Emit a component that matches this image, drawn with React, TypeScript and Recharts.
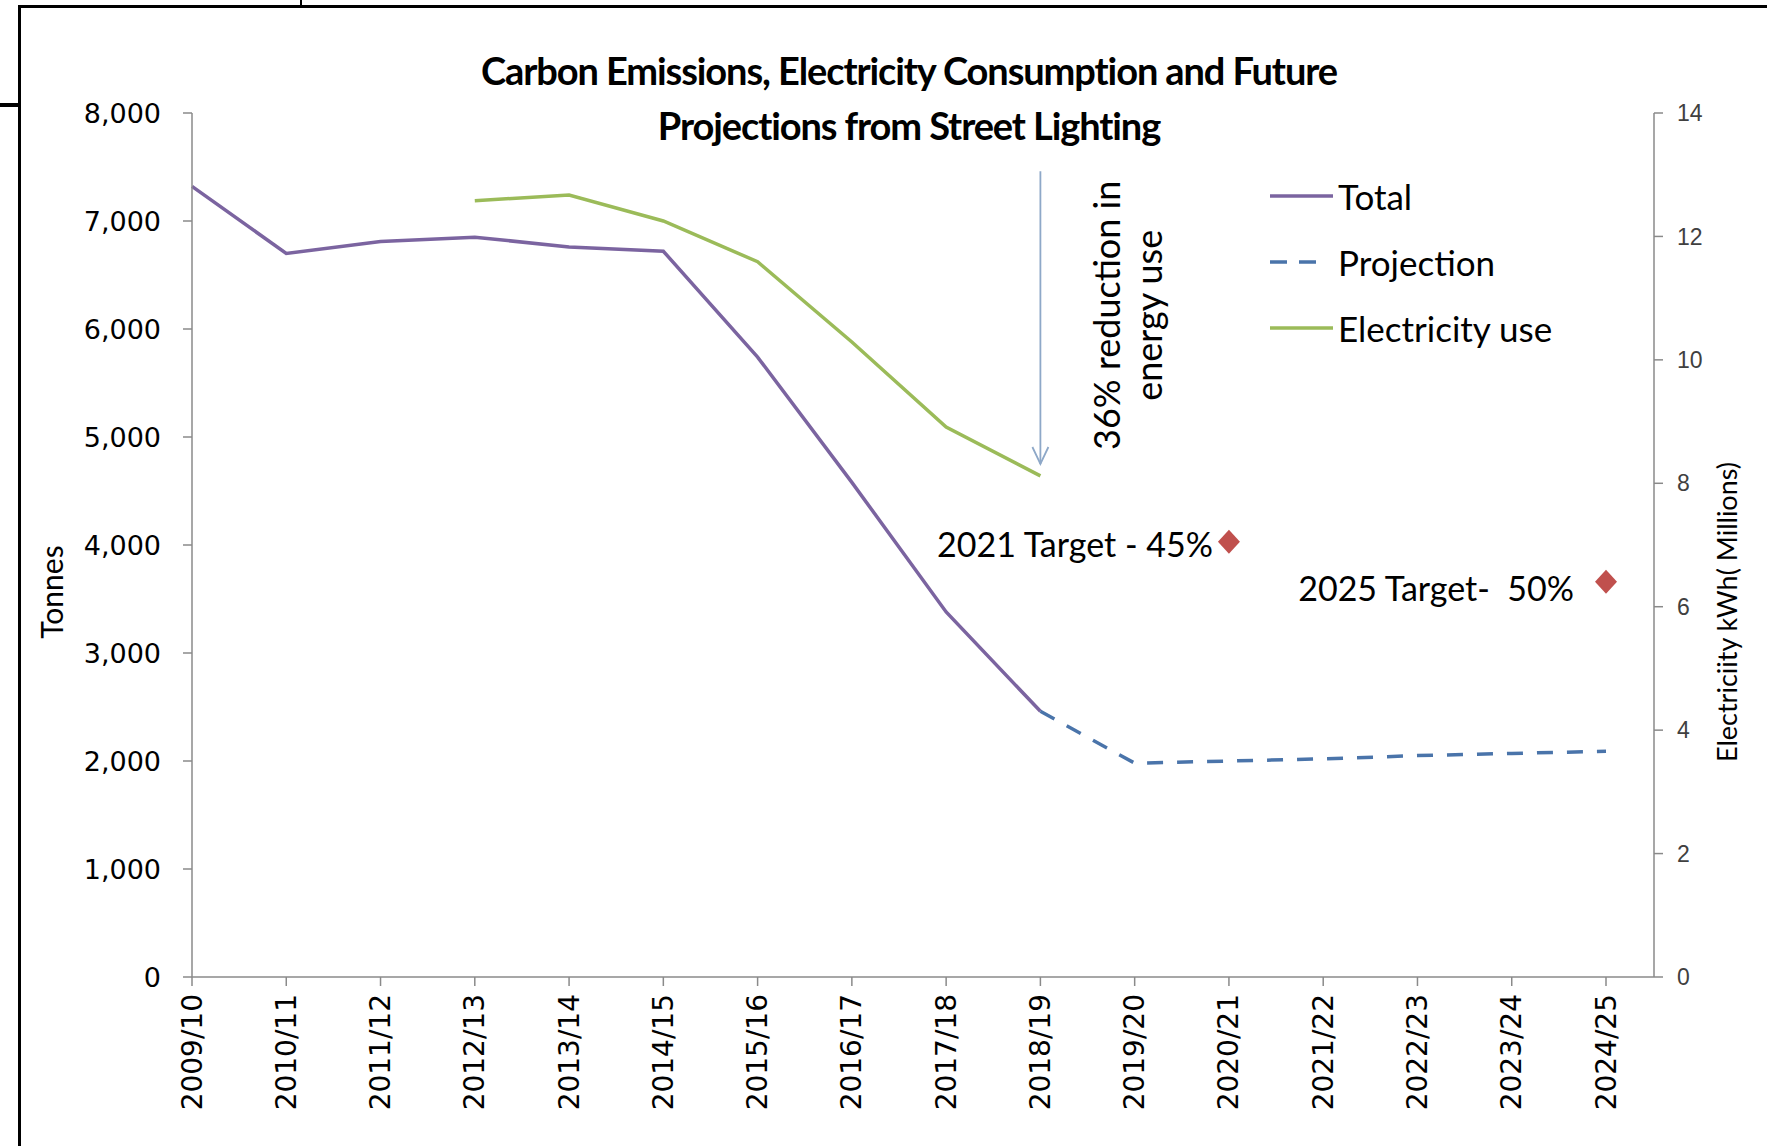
import React from "react";
import {
  ComposedChart,
  Line,
  Scatter,
  XAxis,
  YAxis,
  ReferenceLine,
  Legend,
  Label,
} from "recharts";

// categories
const years = [
  "2009/10", "2010/11", "2011/12", "2012/13", "2013/14", "2014/15", "2015/16", "2016/17",
  "2017/18", "2018/19", "2019/20", "2020/21", "2021/22", "2022/23", "2023/24", "2024/25",
];

// tonnes of CO2
const totalTonnes = [7320, 6700, 6810, 6850, 6760, 6720, 5740, 4580, 3380, 2460, null, null, null, null, null, null];
const projectionTonnes = [null, null, null, null, null, null, null, null, null, 2460, 1980, 2000, 2020, 2050, 2070, 2090];

// electricity kWh (millions)
const electricityMkWh = [null, null, null, 12.58, 12.67, 12.25, 11.59, 10.29, 8.91, 8.12, null, null, null, null, null, null];

// targets
const targetYears = ["2020/21", "2024/25"];
const targetTonnes = [4030, 3660];
const targetLabels = ["2021 Target - 45%", "2025 Target-  50%"];

const leftTicks = [0, 1000, 2000, 3000, 4000, 5000, 6000, 7000, 8000];
const rightTicks = [0, 2, 4, 6, 8, 10, 12, 14];

const seriesOrder = ["Total", "Projection", "Electricity use"];

// arrow annotation
const arrowYear = "2018/19";
const arrowFrom = 7460;
const arrowTo = 4750;
const arrowText = ["36% reduction in", "energy use"];

const data = years.map((year, i) => {
  const t = targetYears.indexOf(year);
  return {
    year,
    total: totalTonnes[i],
    projection: projectionTonnes[i],
    electricity: electricityMkWh[i],
    target: t >= 0 ? targetTonnes[t] : null,
  };
});

const TEXT_FONT = "Lato, 'Noto Sans', sans-serif";
const TICK_FONT = "'DejaVu Sans', Verdana, sans-serif";
const AXIS_GREY = "#8a8a8a";

// label offsets from the diamond, in px
const targetLabelOffset = [
  { dx: -16, dy: 2 },
  { dx: -32, dy: 6 },
];

const XTick = (props: any) => {
  const { x, y, payload } = props;
  return (
    <text
      x={x}
      y={y}
      transform={`rotate(-90 ${x} ${y})`}
      textAnchor="end"
      dominantBaseline="central"
      fontFamily={TICK_FONT}
      fontSize={28}
      fill="#000"
    >
      {payload.value}
    </text>
  );
};

const TargetShape = (props: any) => {
  const { cx, cy, payload } = props;
  if (cx == null || cy == null || payload?.target == null) return <g />;
  const idx = targetYears.indexOf(payload.year);
  const off = targetLabelOffset[idx] || { dx: -16, dy: 0 };
  return (
    <g>
      <path
        d={`M${cx},${cy - 12} L${cx + 11},${cy} L${cx},${cy + 12} L${cx - 11},${cy} Z`}
        fill="#c0504d"
      />
      <text
        x={cx + off.dx}
        y={cy + off.dy}
        textAnchor="end"
        dominantBaseline="central"
        fontFamily={TEXT_FONT}
        fontSize={34}
        fill="#000"
        style={{ whiteSpace: "pre" }}
      >
        {targetLabels[idx]}
      </text>
    </g>
  );
};

const ArrowShape = (props: any) => {
  const { x1, y1, x2, y2 } = props;
  if (x1 == null) return <g />;
  const cy = y1 + 144;
  return (
    <g>
      <line x1={x1} y1={y1} x2={x2} y2={y2} stroke="#8ea8c8" strokeWidth={1.8} />
      <path
        d={`M${x2 - 8},${y2 - 17} L${x2},${y2} L${x2 + 8},${y2 - 17}`}
        fill="none"
        stroke="#8ea8c8"
        strokeWidth={1.8}
      />
      {arrowText.map((t, i) => {
        const tx = x1 + 66 + i * 42;
        return (
          <text
            key={t}
            x={tx}
            y={cy}
            transform={`rotate(-90 ${tx} ${cy})`}
            textAnchor="middle"
            dominantBaseline="central"
            fontFamily={TEXT_FONT}
            fontSize={36}
            fill="#000"
          >
            {t}
          </text>
        );
      })}
    </g>
  );
};

const LegendContent = (props: any) => {
  const items = (props.payload || [])
    .filter((p: any) => p.type !== "none")
    .slice()
    .sort((a: any, b: any) => seriesOrder.indexOf(a.value) - seriesOrder.indexOf(b.value));
  return (
    <div>
      {items.map((entry: any) => {
        const dashed = !!entry.payload?.strokeDasharray;
        return (
          <div key={entry.value} style={{ display: "flex", alignItems: "center", height: 66 }}>
            <svg width={68} height={10}>
              <line
                x1={0}
                y1={5}
                x2={dashed ? 46 : 63}
                y2={5}
                stroke={entry.color}
                strokeWidth={3.5}
                strokeDasharray={dashed ? "17 12" : undefined}
              />
            </svg>
            <span style={{ fontFamily: TEXT_FONT, fontSize: 35, color: "#000", lineHeight: 1 }}>
              {entry.value}
            </span>
          </div>
        );
      })}
    </div>
  );
};

const LeftTitle = (props: any) => {
  const { viewBox } = props;
  const x = viewBox.x + 51;
  const y = viewBox.y + viewBox.height / 2 + 47;
  return (
    <text x={x} y={y} transform={`rotate(-90 ${x} ${y})`} textAnchor="middle" dominantBaseline="central"
      fontFamily={TEXT_FONT} fontSize={30} fill="#000">
      Tonnes
    </text>
  );
};

const RightTitle = (props: any) => {
  const { viewBox } = props;
  const x = viewBox.x + 72;
  const y = viewBox.y + viewBox.height / 2 + 67;
  return (
    <text x={x} y={y} transform={`rotate(-90 ${x} ${y})`} textAnchor="middle" dominantBaseline="central"
      fontFamily={TEXT_FONT} fontSize={27} fill="#000">
      Electriciity kWh( Millions)
    </text>
  );
};

export default function App() {
  return (
    <div style={{ position: "absolute", left: 0, top: 0, width: 1767, height: 1146, background: "#fff", overflow: "hidden" }}>
      {/* page frame fragments */}
      <div style={{ position: "absolute", left: 18, top: 5, width: 1749, height: 3, background: "#000" }} />
      <div style={{ position: "absolute", left: 18, top: 5, width: 3, height: 1141, background: "#000" }} />
      <div style={{ position: "absolute", left: 0, top: 103, width: 19, height: 4, background: "#000" }} />
      <div style={{ position: "absolute", left: 300, top: 0, width: 2, height: 6, background: "#000" }} />

      <div
        style={{
          position: "absolute",
          left: 0,
          top: 43,
          width: 1818,
          textAlign: "center",
          fontFamily: TEXT_FONT,
          fontWeight: 700,
          fontSize: 38,
          letterSpacing: -1.1,
          lineHeight: "55px",
          color: "#000",
          zIndex: 2,
        }}
      >
        <div>Carbon Emissions, Electricity Consumption and Future</div>
        <div>Projections from Street Lighting</div>
      </div>

      <ComposedChart width={1767} height={1146} data={data} margin={{ top: 113, right: 0, bottom: 0, left: 0 }}>
        <XAxis
          dataKey="year"
          scale="point"
          interval={0}
          height={169}
          padding={{ left: 0, right: 48 }}
          tick={<XTick />}
          tickSize={9}
          tickMargin={8}
          axisLine={{ stroke: AXIS_GREY, strokeWidth: 1.5 }}
          tickLine={{ stroke: AXIS_GREY, strokeWidth: 1.5 }}
        />
        <YAxis
          yAxisId="left"
          width={192}
          domain={[0, 8000]}
          ticks={leftTicks}
          tickFormatter={(v: number) => v.toLocaleString("en-US")}
          tick={{ fontFamily: TICK_FONT, fontSize: 27, fill: "#000" }}
          tickSize={9}
          tickMargin={22}
          axisLine={{ stroke: AXIS_GREY, strokeWidth: 1.5 }}
          tickLine={{ stroke: AXIS_GREY, strokeWidth: 1.5 }}
        >
          <Label content={<LeftTitle />} />
        </YAxis>
        <YAxis
          yAxisId="right"
          orientation="right"
          width={113}
          domain={[0, 14]}
          ticks={rightTicks}
          tick={{ fontFamily: "'Liberation Sans', Arial, sans-serif", fontSize: 23, fill: "#404040" }}
          tickSize={9}
          tickMargin={14}
          axisLine={{ stroke: AXIS_GREY, strokeWidth: 1.5 }}
          tickLine={{ stroke: AXIS_GREY, strokeWidth: 1.5 }}
        >
          <Label content={<RightTitle />} />
        </YAxis>

        <ReferenceLine
          yAxisId="left"
          segment={[
            { x: arrowYear, y: arrowFrom },
            { x: arrowYear, y: arrowTo },
          ]}
          shape={ArrowShape}
        />

        <Line
          yAxisId="left"
          name="Total"
          dataKey="total"
          stroke="#7b64a0"
          strokeWidth={3.5}
          dot={false}
          activeDot={false}
          isAnimationActive={false}
        />
        <Line
          yAxisId="left"
          name="Projection"
          dataKey="projection"
          stroke="#4a74aa"
          strokeWidth={3.5}
          strokeDasharray="16 14"
          dot={false}
          activeDot={false}
          isAnimationActive={false}
        />
        <Line
          yAxisId="right"
          name="Electricity use"
          dataKey="electricity"
          stroke="#9bbb59"
          strokeWidth={3.5}
          dot={false}
          activeDot={false}
          isAnimationActive={false}
        />
        <Scatter
          yAxisId="left"
          name="Target"
          dataKey="target"
          legendType="none"
          shape={TargetShape}
          isAnimationActive={false}
        />
        <Legend
          layout="vertical"
          align="center"
          verticalAlign="middle"
          content={<LegendContent />}
          wrapperStyle={{ left: 1270, top: 163, width: 400 }}
        />
      </ComposedChart>
    </div>
  );
}
